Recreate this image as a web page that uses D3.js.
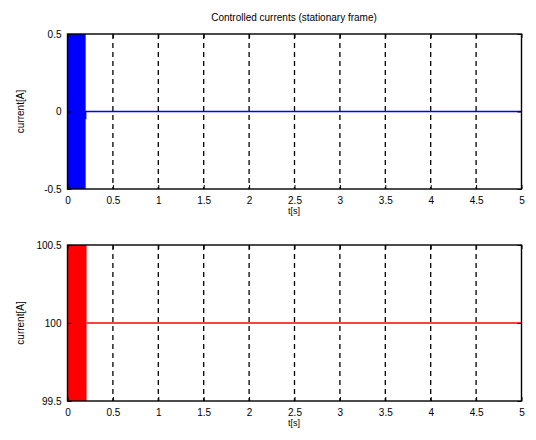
<!DOCTYPE html>
<html>
<head>
<meta charset="utf-8">
<script src="https://cdn.jsdelivr.net/npm/d3@7"></script>
<style>
  body { margin: 0; background: #fff; }
  text { font-family: "Liberation Sans", Arial, sans-serif; fill: #000; }
</style>
</head>
<body>
<div id="chart"></div>
<script>
// data
const xTicks = [0, 0.5, 1, 1.5, 2, 2.5, 3, 3.5, 4, 4.5, 5]
const titleText = "Controlled currents (stationary frame)"

// top panel: blue current, transient band then flat
const topDomain = [-0.5, 0.5]
const topTicks = [-0.5, 0, 0.5]
const topBandT = [0, 0.2]          // transient oscillation, clipped at axis limits
const topBandLo = [-0.6, -0.6]
const topBandHi = [0.6, 0.6]
const topLineT = [0.2, 0.2, 5]
const topLineV = [-0.05, 0, 0]

// bottom panel: red current
const botDomain = [99.5, 100.5]
const botTicks = [99.5, 100, 100.5]
const botBandT = [0, 0.21]
const botBandLo = [99.4, 99.4]
const botBandHi = [100.6, 100.6]
const botLineT = [0.21, 5]
const botLineV = [100, 100]

const w = 536, h = 440
const svg = d3.select("#chart").append("svg").attr("width", w).attr("height", h)

const x = d3.scaleLinear().domain([0, 5]).range([67.5, 521.5])
const fmt = d => String(d)   // plain hyphen minus like the source

svg.append("text")
  .attr("x", 294).attr("y", 21)
  .attr("text-anchor", "middle")
  .style("font-size", "10px")
  .text(titleText)

function panel(top, bottom, domain, ticks, bandT, bandLo, bandHi, lineT, lineV, color, id) {
  const y = d3.scaleLinear().domain(domain).range([bottom, top])
  const g = svg.append("g")

  g.append("clipPath").attr("id", id)
    .append("rect").attr("x", x(0)).attr("y", top).attr("width", x(5) - x(0)).attr("height", bottom - top)

  const plot = g.append("g").attr("clip-path", `url(#${id})`)

  // grid
  plot.selectAll(".grid").data(xTicks.slice(1, -1)).enter().append("line")
    .attr("x1", d => x(d)).attr("x2", d => x(d))
    .attr("y1", top).attr("y2", bottom)
    .attr("stroke", "#000").attr("stroke-width", 1.3)
    .attr("stroke-dasharray", "5,4")

  // transient band
  const band = d3.area().x((d, i) => x(bandT[i])).y0((d, i) => y(bandLo[i])).y1((d, i) => y(bandHi[i]))
  plot.append("path").datum(bandT).attr("d", band).attr("fill", color)

  // steady line
  const line = d3.line().x((d, i) => x(lineT[i])).y((d, i) => y(lineV[i]))
  plot.append("path").datum(lineT).attr("d", line)
    .attr("fill", "none").attr("stroke", color).attr("stroke-width", 1.5)

  // box
  g.append("rect").attr("x", x(0)).attr("y", top).attr("width", x(5) - x(0)).attr("height", bottom - top)
    .attr("fill", "none").attr("stroke", "#000").attr("stroke-width", 1.4)

  // x ticks inside bottom and top
  const xa = d3.axisBottom(x).tickValues(xTicks).tickSize(-4).tickPadding(8).tickFormat(fmt)
  const ax = g.append("g").attr("transform", `translate(0,${bottom})`).call(xa)
  ax.select(".domain").remove()
  ax.selectAll("text").style("font-size", "10px").style("font-family", "Liberation Sans, Arial, sans-serif")
  g.append("g").attr("transform", `translate(0,${top})`)
    .call(d3.axisTop(x).tickValues(xTicks).tickSize(-4).tickFormat(""))
    .select(".domain").remove()

  const ya = d3.axisLeft(y).tickValues(ticks).tickSize(-4).tickPadding(6).tickFormat(fmt)
  const ay = g.append("g").attr("transform", `translate(${x(0)},0)`).call(ya)
  ay.select(".domain").remove()
  ay.selectAll("text").style("font-size", "10px").style("font-family", "Liberation Sans, Arial, sans-serif")
  g.append("g").attr("transform", `translate(${x(5)},0)`)
    .call(d3.axisRight(y).tickValues(ticks).tickSize(-4).tickFormat(""))
    .select(".domain").remove()

  g.append("text")
    .attr("x", 294).attr("y", bottom + 25)
    .attr("text-anchor", "middle").style("font-size", "9px")
    .text("t[s]")

  g.append("text")
    .attr("transform", `translate(24,${(top + bottom) / 2}) rotate(-90)`)
    .attr("text-anchor", "middle").style("font-size", "10px")
    .text("current[A]")
}

panel(34, 189, topDomain, topTicks, topBandT, topBandLo, topBandHi, topLineT, topLineV, "#0000ff", "clipTop")
panel(245, 401, botDomain, botTicks, botBandT, botBandLo, botBandHi, botLineT, botLineV, "#ff0000", "clipBot")
</script>
</body>
</html>
